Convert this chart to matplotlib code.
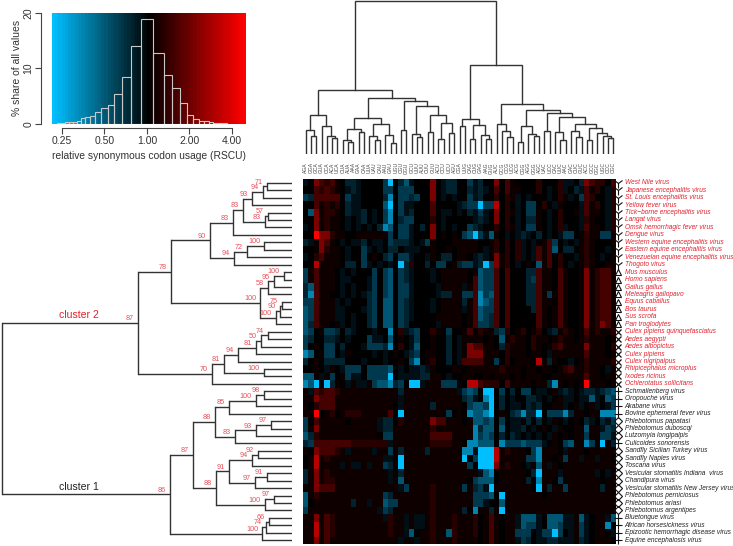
import numpy as np
import matplotlib
matplotlib.use("Agg")
import matplotlib.pyplot as plt
from matplotlib.colors import LinearSegmentedColormap

plt.rcParams["font.family"] = ["Liberation Sans", "DejaVu Sans"]

W, H = 733, 546
LINE = "#333333"
RED = "#e2222e"
NUM_RED = "#e8505a"

# histogram of RSCU values
bin_edges = [0.231, 0.246, 0.264, 0.281, 0.302, 0.319, 0.343, 0.366, 0.397, 0.431, 0.475, 0.527, 0.587, 0.665,
             0.770, 0.907, 1.103, 1.312, 1.503, 1.703, 1.910, 2.116, 2.32, 2.55, 2.73, 2.96, 3.3, 3.69]
bin_share = [0.1, 0.2, 0.3, 0.3, 0.4, 0.6, 1.0, 1.3, 1.5, 2.1, 2.9, 3.5, 5.4, 8.4,
             14.1, 18.8, 12.7, 8.8, 6.4, 3.8, 1.7, 0.9, 0.5, 0.5, 0.4, 0.2, 0.1]
hist_xticks = [0.25, 0.5, 1, 2, 4]
hist_xlabels = ["0.25", "0.50", "1.00", "2.00", "4.00"]
hist_yticks = [0, 10, 20]

# row labels, top to bottom, and their symbols
species_red = ["West Nile virus", "Japanese encephalitis virus", "St. Louis encephalitis virus", "Yellow fever virus",
               "Tick\u2212borne encephalitis virus", "Langat virus", "Omsk hemorrhagic fever virus", "Dengue virus",
               "Western equine encephalitis virus", "Eastern equine encephalitis virus",
               "Venezuelan equine encephalitis virus", "Thogoto virus",
               "Mus musculus", "Homo sapiens", "Gallus gallus", "Meleagris gallopavo", "Equus caballus", "Bos taurus",
               "Sus scrofa", "Pan troglodytes",
               "Culex pipiens quinquefasciatus", "Aedes aegypti", "Aedes albopictus", "Culex pipiens",
               "Culex nigripalpus", "Rhipicephalus microplus", "Ixodes ricinus", "Ochlerotatus sollicitans"]
species_black = ["Schmallenberg virus", "Oropouche virus", "Akabane virus", "Bovine ephemeral fever virus",
                 "Phlebotomus papatasi", "Phlebotomus duboscqi", "Lutzomyia longipalpis", "Culicoides sonorensis",
                 "Sandfly Sicilian Turkey virus", "Sandfly Naples virus", "Toscana virus",
                 "Vesicular stomatitis Indiana  virus", "Chandipura virus", "Vesicular stomatitis New Jersey virus",
                 "Phlebotomus perniciosus", "Phlebotomus ariasi", "Phlebotomus argentipes",
                 "Bluetongue virus", "African horsesickness virus", "Epizootic hemorrhagic disease virus",
                 "Equine encephalosis virus"]
row_symbols = "Y" * 12 + "^" * 8 + "x" * 8 + "+" * 4 + "D" * 3 + "+" + "D" * 9 + "+" * 4

# column labels (too small to read with certainty in the picture)
codons = ["AGA", "GGA", "GCA", "GUA", "CCA", "ACA", "UCA", "CUA", "AUA", "AAA", "GAA", "CAA", "UUA", "UAU", "CAU",
          "AAU", "GAU", "UGU", "CGU", "GGU", "GCU", "UUU", "AUU", "CUU", "GUU", "ACU", "CCU", "UCU", "AGU",
          "CGA", "UUG", "CAG", "CUG", "GAG", "AAG", "GUG", "AUC", "GCG", "CCG", "UCG", "ACG", "CGG", "AGG", "GGG",
          "AGC", "UAC", "UCC", "CAC", "UUC", "AAC", "GAC", "CUC", "GUC", "ACC", "GCC", "GGC", "UGC", "CCC", "CGC"]

# heatmap, one string per row: '.' black, ',' 1-5 red steps, '-' a-e blue steps
heat_rows = [
    "-.3212,.aa -....be.ac -...3.-aa. .b-a..3.2, ....1...1- -.a3211.2",
    "..2121,.-a -....bb.bb b...3.-aa. .a-a-.2.2, ,...1.-.1- .a-2,1.-1",
    "ba22222.b- -....ad.bb ab..3.-.-. .b-a..1.1, -.-...-.1, -.b21..-1",
    "..2,1,1.a- -....ce.b- -...2....- abbebb4.1. -.bb.1.-,. ..-2,1.-1",
    ".c3,11,.a- -a.-.bd.b- a...2.--.- .a-b-.3.1, -.bb,.-.1. .,-2,,.-1",
    "..3,1,,.-. -a.-.bd.ab b...1.-... ..-a-.3.1. -.aa,.-.1. ..-1,..-1",
    "-.3,1,,.-. -.-.adc.bb -.a.3.-.-. .ba-..1.1, -.bb,.-.1- ..-2,,.-1",
    "..5331,,.. ,,,,,,b.bb -...3.,.,. bceb-c,.-. -a-.a.-.-b b.,1,,bb,",
    "a-,32,.-.- -a.--.baaa -.-b,...,, ,,,..,1.1. 1-.-.,2b.- .-,1,...,",
    "..,31,,.-. .b-.-.aa.- --..,..,., ,,,.-,1.1. 1-.-2,2c.a a.,1,..-,",
    "-.12,,,.-. .b.,.ab.bb -..-,.aa., ,.-a-.3,1. 1-.-2,2.1. .-,1,.-.,",
    "..4,,,,.aa .b-.-.-.ea 1..a.bb.,a bb-aeb3,1. -.,.c,2.1. -.,1,..,,",
    "b,2,,,.-.- ...b.bc.ba -...-.,,,, ,.,cbb2.2. ..aa2,,.2, ..,3,122,",
    "b,2,,,.--. ..-b.bc.ba -...-.,,,, ,.2cbb2.2. ..ab2,,.2, ..,3,122,",
    "ac2,,,.-.- ..-b.bc.bb -....-,,,, -,2cbb2.2. ..aa2,,.2, ..,3,122,",
    "ad2,,..-.- .-ab.bc.bb -....-aa,, bb2dbc2.2. ..aa2,b,2, ..,3,122,",
    "bb2,,,-.-. ..ab.cc.ba -...-.,,,, a,2dcb2.2. ..aa2,,.2, ..,3,122,",
    "cb2,,,--.. .-ab.cc.ba -...-.,,,, -,2cbb2.2. ...a2,.,2, ..,3,122,",
    "cb2,,,--.- ..ab.cc.ba -....,,,,, .,2cba2.2. ....2,.,2, ..,3,122,",
    "ca2,,.,-.- ..ab.cc.ba .....-,,,, .,2bba2.2. ....2,.,2, ..,3,132,",
    "cb.,bba.a- ...-..d.1- ab..1,.b.. ,2.1,,ab1. ,1.,1.-a,1 ,.,2,1,,1",
    "ba..aa-.-. ..b--.c.,. -b..,..a.- ,,,,.,.c,1 ,,.1,,.,1, ,.,1,,,.,",
    "b.,.bb.a.. .-bbbad.1. -c..,..a.- ,322,,.a1, ,,.1,.,12, ,,,3,,,.1",
    "dc.,bb.-,. ...-.-.,.- ab.,,..a.- ,333,,,.1, ,,.,,.-,,, ,,,2,,,.,",
    "a.,.aaaa.. .-...-..,. bd.,1..a.- 2222,,b.1. ,,,.4,a,.. -.,1,,,,1",
    "..,.-,.-bb b.bbbbc.-. --a-,...,, .,,,,,,1,, ,.,,.,,.,1 2,,1,,.-,",
    "cc,-,b.,b- -.bbbbe.-- --aa,,.-.. ,,..,.,,,. ,.,,,..,,, ,,,2,,.,,",
    "dce.ea,.-, --,bccdab. ee-,,,bbb, .442111.2, ,,,.,,ad,. ,.,5,,,.,",
    ",-21221,,, ,,,,,,,,a, ,,,,,,,,,- bcb.ee.b.a .bb.--.,-a -.-aa-abc",
    ",,3222,,,, ,,,,,,,,-, ,,,,,,,,,, ab-.de.a.- ..aa-.-.,- -.--c-.cb",
    ",.1222,,,, ,,,,,,,.-, ,,,,a,,,,, .bccbe.a.- -.a-a..,,- .,-.,-.-b",
    ",,5.,1.,11 1,,,,,2.e, ,,,,,,,b., .dccde.,.a bdaae.bbbd a,,.,,ddd",
    "b.2,,,,,., ,,,,-aa.1, ,,,,322,,, .,ccbc.b.- -.a.a.-,.- .,.a-.a-b",
    "b,3,,,,,,, ,,,,-aa,,, ,,,,1,,,,, ,,dacc.c.- -a.-.,.-,. .,,c,,-ba",
    "ca1,,,,,,, ,,,,.bb,,, ,,,,2222,, ,,dbcb.a.a -.-.-.-,., .,,b,,bb-",
    "ab22222221 111111-,,, ,,,,1111,, .ddccc.dbb bcbbb-.,.b c,,db,e,a",
    ",.32221,-, ,,,-,,b,a, ,,,a,,,,,, dd-eee4,1, ,,.bd,,,.- ,,,.,,,,,",
    ".,4,1,,,,, ,,,,,--,e, ,,,,,,,,,, e.beee4,,, ,,bbd,,.,b ,,-,,-,,.",
    ".,4,,,,-,- -,-,,ba,e, ,,,,,,,,,, ,b.eee3,1, ,.-,c,-,., ,,,,,,,,,",
    "a,3,1,,,,, ,,,,,,-,a, ,,,,,,,,,, ,,,-cd.,,, ,,.ae,,,-, ,,,,,-.-,",
    "a,3,11,,,, ,,,,,,-,c, ,,,,,,,,,, ,.bccc.,,, ,,a.d,,.b, ,,,,,,.,,",
    ",,3222,,,, ,,,,,,,,-b ,,,,1,,,,, b,ab-e,,,, ,,,.e,a,,b ,,,,,,a,,",
    "c,1,,,,,,, ,,,,,ba,,, ,,,,1,,,,, ,,bbbc.e,, ,,,,,.,,,, ,,,,,,,,,",
    "c.,,,,,,,a ,,-,,cbb,, ,,,,1,,,,, ,,bb-..c,, ,,,,,,,,,, ,,,,,,,,,",
    "b,,,,,,,,, ,,,,-ba,,, ,,,,1,,,,, a.d,,a,e,, ,,,,,,,,,, ,,,,,,,,,",
    ",,3,21,,,, ,,,,,-1,,- ,--,1,,,1, ,,1.,2,.,, -ccc-.ccc- -,c-.,,-c",
    ",,4,21,,,, ,,,,,,1,,- ,--,1,,,1, ,,1.,2,.,, -cbb-.ccb- -,b-.,,d.",
    ",,4,21,,,, ,,,,,,1,,- c.,,1,,c1, ,,1.,2,.,, bbb.-bbeb. -,b-.,,.-",
    ",,3,2,,,,, ,,,,,,,,-, ,-,,1,,,1, ,,,.,2,.,, -ba.--aa-- -,a-.,,,.",
]
heat_levels = {".": 0, ",": 0.06, "1": 0.15, "2": 0.27, "3": 0.48, "4": 0.72, "5": 1.0,
               "-": -0.08, "a": -0.18, "b": -0.3, "c": -0.45, "d": -0.7, "e": -1.0}

# column dendrogram: (height, left, right), a leaf is the column number
col_tree = (152.7,
    (64.3,
        (39, (23.7, 0, (18.3, 1, 2)), (28.3, 3, (18.3, 4, (16, 5, 6)))),
        (56,
            (35.7,
                (25, (13.7, 7, (11.7, 8, 9)), (21.7, 10, 11)),
                (29.7, (18.3, 12, (14.3, 13, 14)), (19.3, 15, (11, 16, 17)))),
            (53.3,
                (23.7, 18, 19),
                (47.7,
                    (20.3, 20, (17, 21, 22)),
                    (39.3, (22, 23, 24), (31, (15, 25, 26), (21, 27, 28))))))),
    (88.7,
        (35,
            (27.7, 29, 30),
            (28.7, (15, 31, 32), (19, 33, (15, 34, 35)))),
        (50,
            (29.7, 36, (23, 37, (17, 38, 39))),
            (44,
                (27.7, (12, 40, 41), (19.7, 42, (18.3, 43, 44))),
                (40.7,
                    (23, 45, 46),
                    (37,
                        (22, 47, (14, 48, 49)),
                        (30.3,
                            (23, 50, (16.7, 51, 52)),
                            (25.7, (14, 53, 54), (21, 55, (18.3, 56, (16.3, 57, 58)))))))))))

# row dendrogram: (x in px from the left, bootstrap label, first, second), a leaf is the row number
cluster_2 = (138, "87",
    (171, "78",
        (209.7, "90",
            (232.7, "83",
                (242.7, "83",
                    (251.7, "93",
                        (263.3, "94", (267.3, "71", 0, 1), 2),
                        3),
                    (265.3, "83", (268.3, "57", 4, 5), 6)),
                7),
            (234.3, "94",
                (247.3, "72", (264.3, "100", 8, 9), 10),
                11)),
        (260.3, "100",
            (267.7, "58",
                (273.7, "95", (284, "100", 12, 13), 14),
                15),
            (275.7, "100",
                (280, "90", (282, "75", 16, 17), 18),
                19))),
    (212, "70",
        (223.7, "81",
            (237.7, "94",
                (256, "81",
                    (261.3, "50", (268, "74", 20, 21), 22),
                    23),
                24),
            (264, "100", 25, 26)),
        27))
cluster_1 = (170.3, "86",
    (192.7, "87",
        (215.3, "88",
            (229, "85",
                (256, "100", (264.3, "98", 28, 29), 30),
                31),
            (235.3, "83",
                (255.7, "93", (271, "97", 32, 33), 34),
                35)),
        (216.3, "88",
            (229, "91",
                (252.3, "94", (258.3, "92", 36, 37), 38),
                (255.3, "97", (267.3, "91", 39, 40), 41)),
            (264.7, "100", (274.3, "97", 42, 43), 44))),
    (262.3, "100",
        (266, "74", (268.7, "66", 45, 46), 47),
        48))
row_tree = (2, None, cluster_2, cluster_1)


def add_px(left, top, right, bottom):
    # axes placed by pixel edges of the final picture
    return fig.add_axes([left / W, 1 - bottom / H, (right - left) / W, (bottom - top) / H])


def draw_col(node, ax):
    if not isinstance(node, tuple):
        return node, 0
    xa, ya = draw_col(node[1], ax)
    xb, yb = draw_col(node[2], ax)
    ax.plot([xa, xa, xb, xb], [ya, node[0], node[0], yb], color=LINE, lw=1.0, solid_joinstyle="miter")
    return (xa + xb) / 2, node[0]


def draw_row(node, ax):
    if not isinstance(node, tuple):
        return 292, node
    xa, ya = draw_row(node[2], ax)
    xb, yb = draw_row(node[3], ax)
    for x, y in [(xa, ya), (xb, yb)]:
        ax.plot([node[0], x], [y, y], color=LINE, lw=1.0, solid_capstyle="butt")
    ax.plot([node[0], node[0]], [ya, yb], color=LINE, lw=1.0)
    y_mid = (ya + yb) / 2
    if node[1]:
        ax.annotate(node[1], (node[0], y_mid), xytext=(-3, 0.6), textcoords="offset points", ha="right",
                    va="bottom", color=NUM_RED, fontsize=5.2, annotation_clip=False)
    return node[0], y_mid


fig = plt.figure(figsize=(W / 100, H / 100), dpi=100)

# histogram with colour key
cmap = LinearSegmentedColormap.from_list("rscu", ["#00bfff", "#000000", "#ff0000"])
ax = add_px(51.7, 12.7, 246, 124)
ax.set_xscale("log", base=2)
xlim = (0.25 * 2 ** (-10 / 42.5), 4 * 2 ** (14 / 42.5))
key_edges = np.geomspace(xlim[0], xlim[1], 60)
ax.pcolormesh(key_edges, [0, 20], np.linspace(-1, 1, 59).reshape(1, -1), cmap=cmap, vmin=-1, vmax=1)
ax.bar(bin_edges[:-1], bin_share, width=np.diff(bin_edges), align="edge", fill=False, edgecolor="#c8c8c8", lw=0.8)
ax.set_xlim(xlim)
ax.set_ylim(0, 19.9)
for side in ["top", "right"]:
    ax.spines[side].set_visible(False)
ax.spines["left"].set_position(("outward", 8))
ax.spines["bottom"].set_position(("outward", 3))
ax.spines["left"].set_bounds(0, 20)
ax.spines["bottom"].set_bounds(0.25, 4)
ax.spines["left"].set_color("#444444")
ax.spines["bottom"].set_color("#444444")
ax.set_xticks(hist_xticks)
ax.set_xticklabels(hist_xlabels)
ax.minorticks_off()
ax.set_yticks(hist_yticks)
ax.tick_params(axis="x", labelsize=7.5, length=4, width=0.8, color="#444444", pad=2, labelcolor="#333333")
ax.tick_params(axis="y", labelsize=7.5, length=4, width=0.8, color="#444444", pad=1, labelcolor="#333333")
for label in ax.get_yticklabels():
    label.set_rotation(90)
    label.set_va("center")
ax.set_xlabel("relative synonymous codon usage (RSCU)", fontsize=7.4, color="#333333", labelpad=3)
ax.set_ylabel("% share of all values", fontsize=7.5, color="#333333", labelpad=1.5)

# heatmap
rows = [r.replace(" ", "") for r in heat_rows]
bad = [i for i, r in enumerate(rows) if len(r) != 59]
if bad:
    raise ValueError(f"bad rows {bad} {[len(rows[i]) for i in bad]}")
heat = np.array([[heat_levels[c] for c in r] for r in rows])
ax = add_px(303, 179, 616, 544)
ax.imshow(heat, cmap=cmap, vmin=-1, vmax=1, aspect="auto", interpolation="nearest")
ax.axis("off")

# column dendrogram and column labels
ax = add_px(303, 0, 616, 154)
draw_col(col_tree, ax)
ax.set_xlim(-0.5, 58.5)
ax.set_ylim(0, 154)
ax.axis("off")
for i, codon in enumerate(codons):
    ax.annotate(codon, (i, 0), xytext=(0, -6), textcoords="offset points", rotation=90, ha="center", va="top",
                fontsize=3.6, color="#444444", annotation_clip=False)

# row dendrogram
ax = add_px(0, 179, 292, 544)
draw_row(row_tree, ax)
ax.set_xlim(0, 292)
ax.set_ylim(48.5, -0.5)
ax.axis("off")
ax.text(79, 17.75, "cluster 2", color=RED, fontsize=7.6, ha="center", va="center")
ax.text(79, 40.9, "cluster 1", color="#222222", fontsize=7.6, ha="center", va="center")

# row symbols and labels
ax = add_px(616, 179, 733, 544)
species = species_red + species_black
for i, name in enumerate(species):
    sym = row_symbols[i]
    if sym == "Y":
        ax.plot(2.3, i, marker="1", ms=7.5, mew=0.8, color="#111111", clip_on=False)
    elif sym == "^":
        ax.plot(2.3, i, marker="^", ms=4.2, mew=0.8, mfc="none", color="#111111", clip_on=False)
    elif sym == "x":
        ax.plot(2.3, i, marker="x", ms=4, mew=0.9, color="#111111", clip_on=False)
    elif sym == "+":
        ax.plot(2.3, i, marker="+", ms=6, mew=0.8, color="#111111", clip_on=False)
    else:
        ax.plot(2.3, i, marker="D", ms=3.8, mew=0.8, mfc="none", color="#111111", clip_on=False)
    ax.text(8.8, i, name, style="italic", fontsize=4.8, va="center", ha="left", color=RED if i < 28 else "#222222")
ax.set_xlim(0, 117)
ax.set_ylim(48.5, -0.5)
ax.axis("off")

plt.savefig("out.png", dpi=100)
